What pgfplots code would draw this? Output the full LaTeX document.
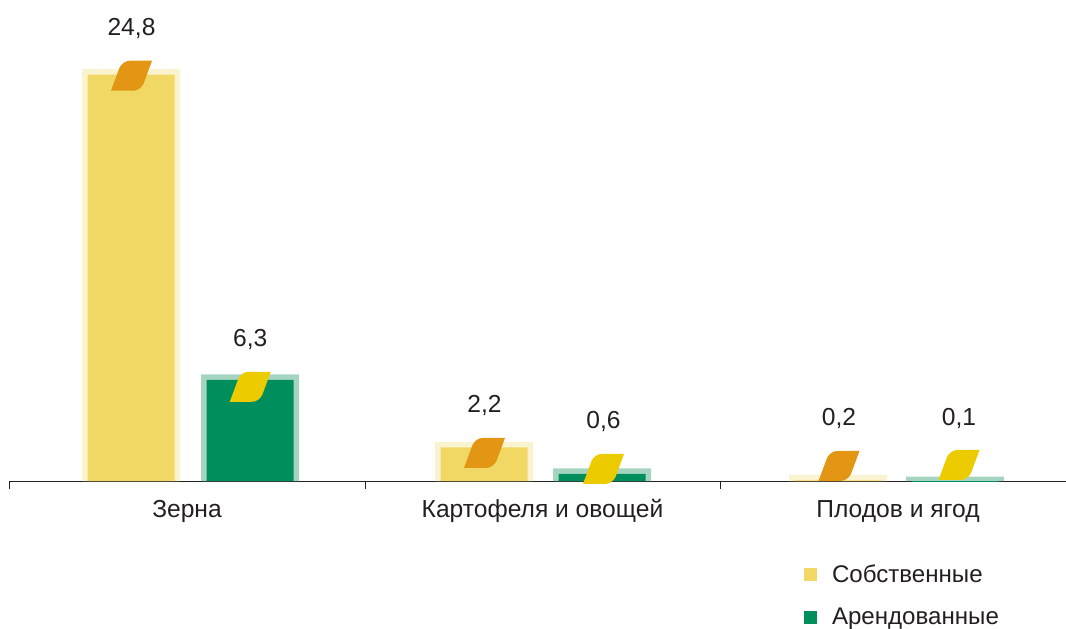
\documentclass[border=0pt]{standalone}
\usepackage{pgfplots}
\usepackage{pgfplotstable}
\usepackage{fontspec}
\setmainfont{Liberation Sans}
\pgfplotsset{compat=1.18}
\definecolor{ownfill}{HTML}{F1D864}
\definecolor{ownedge}{HTML}{FAF3D0}
\definecolor{rentfill}{HTML}{008F5C}
\definecolor{rentedge}{HTML}{A5D5C0}
\definecolor{leafor}{HTML}{E29614}
\definecolor{leafye}{HTML}{ECCB00}
\definecolor{ink}{HTML}{231F20}
\pgfdeclareplotmark{leaf}{%
  \pgfpathmoveto{\pgfpoint{-20.5pt}{-15pt}}%
  \pgfpathlineto{\pgfpoint{-12pt}{8pt}}%
  \pgfpathcurveto{\pgfpoint{-10pt}{12pt}}{\pgfpoint{-6pt}{15pt}}{\pgfpoint{-1.5pt}{15pt}}%
  \pgfpathlineto{\pgfpoint{20.5pt}{15pt}}%
  \pgfpathlineto{\pgfpoint{12pt}{-8pt}}%
  \pgfpathcurveto{\pgfpoint{10pt}{-12pt}}{\pgfpoint{6pt}{-15pt}}{\pgfpoint{1.5pt}{-15pt}}%
  \pgfpathclose
  \pgfusepathqfill}
\pgfplotstableread{
x v
131 24.8
484 2.2
838 0.2
}\ownbars
\pgfplotstableread{
x v
250 6.3
602 0.6
955 0.1
}\rentbars
\pgfplotstableread{
x y lab
131.5 24.56 24,8
484.5 1.70 2,2
839 0.91 0,2
}\ownleaves
\pgfplotstableread{
x y lab
250.3 5.71 6,3
603.5 0.73 0,6
959 0.97 0,1
}\rentleaves
\begin{document}
\begin{tikzpicture}[x=1pt,y=1pt]
\useasboundingbox (-9,-148) rectangle (1057,481);
\begin{axis}[
  at={(0,0)}, anchor=origin,
  scale only axis, width=1057pt, height=481pt,
  xmin=9, xmax=1066, ymin=0, ymax=29.15,
  axis x line=bottom, axis y line=none,
  axis line style={ink,line width=1pt,-},
  xtick={187,542.5,898},
  xticklabels={Зерна,Картофеля и овощей,Плодов и ягод},
  minor xtick={9,365,720},
  major tick length=0pt, minor tick length=8pt,
  tick align=outside,
  every minor tick/.style={ink,line width=0.8pt},
  xticklabel style={font=\fontsize{24.6}{29}\selectfont,text=ink,anchor=center,yshift=-30pt,inner sep=0pt},
  ytick=\empty,
  legend style={at={(795pt,-81pt)},anchor=north west,draw=none,fill=none,
    font=\fontsize{24.1}{28}\selectfont,text=ink,
    row sep=20pt,inner sep=0pt,outer sep=0pt},
  legend cell align=left,
  nodes near coords style={anchor=center,yshift=47pt,font=\fontsize{24.6}{29}\selectfont,text=ink,inner sep=0pt},
]
% halo: the pale frame round each bar, 5.5 px wide, is a wider bar behind it
\addplot[ybar,bar width=98pt,bar shift=0pt,fill=ownedge,draw=none,forget plot,
  y filter/.expression={y+0.167}]
  table[x=x,y=v]{\ownbars};
\addplot[ybar,bar width=98pt,bar shift=0pt,fill=rentedge,draw=none,forget plot,
  y filter/.expression={y+0.167}]
  table[x=x,y=v]{\rentbars};
\addplot[ybar,bar width=87pt,bar shift=0pt,fill=ownfill,draw=none,
  y filter/.expression={y-0.167},
  legend image code/.code={\path[fill=ownfill,draw=none] (0pt,-6.5pt) rectangle (13pt,6.5pt);}]
  table[x=x,y=v]{\ownbars};
\addlegendentry{\hspace*{13pt}Собственные}
\addplot[ybar,bar width=87pt,bar shift=0pt,fill=rentfill,draw=none,
  y filter/.expression={y-0.167},
  legend image code/.code={\path[fill=rentfill,draw=none] (0pt,-6.5pt) rectangle (13pt,6.5pt);}]
  table[x=x,y=v]{\rentbars};
\addlegendentry{\hspace*{13pt}Арендованные}
\addplot[only marks,mark=leaf,color=leafor,forget plot,point meta=explicit symbolic,nodes near coords]
  table[x=x,y=y,meta=lab]{\ownleaves};
\addplot[only marks,mark=leaf,color=leafye,forget plot,point meta=explicit symbolic,nodes near coords]
  table[x=x,y=y,meta=lab]{\rentleaves};
\end{axis}
\end{tikzpicture}
\end{document}
